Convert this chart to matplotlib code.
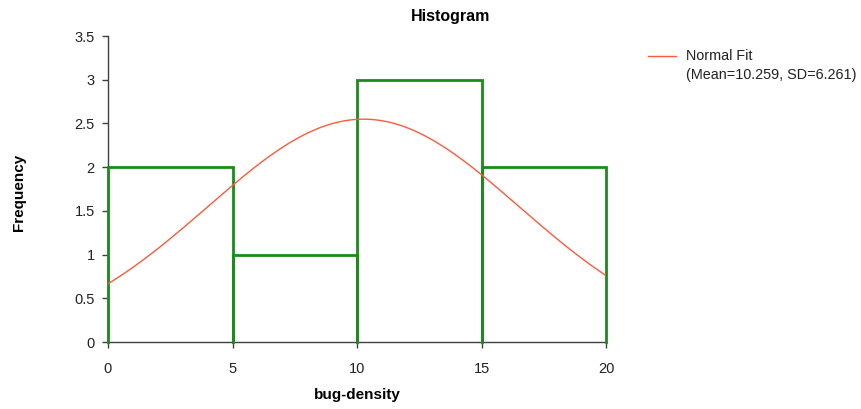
import numpy as np
import matplotlib
matplotlib.use("Agg")
import matplotlib.pyplot as plt

plt.rcParams['font.family'] = ['Liberation Sans', 'DejaVu Sans']

# Histogram data
bin_edges = [0, 5, 10, 15, 20]
counts = [2, 1, 3, 2]

# Normal fit parameters
fit_mean = 10.259
fit_sd = 6.261

x_ticks = [0, 5, 10, 15, 20]
y_ticks = [0, 0.5, 1, 1.5, 2, 2.5, 3, 3.5]
y_tick_labels = ["0", "0.5", "1", "1.5", "2", "2.5", "3", "3.5"]

W, H = 861, 409
fig = plt.figure(figsize=(W / 100, H / 100), dpi=100)
ax = fig.add_axes([108 / W, 1 - 342 / H, 498 / W, 306 / H])

# Histogram bars as outlined steps
green = "#1a8c1a"
for left, right, c in zip(bin_edges[:-1], bin_edges[1:], counts):
    ax.plot([left, left, right, right], [0, c, c, 0], color=green, lw=2,
            solid_joinstyle='miter', zorder=3, clip_on=False)

# Scaled normal density curve
n_total = sum(counts)
width = bin_edges[1] - bin_edges[0]
xs = np.linspace(bin_edges[0], bin_edges[-1], 400)
ys = n_total * width / (fit_sd * np.sqrt(2 * np.pi)) * np.exp(-0.5 * ((xs - fit_mean) / fit_sd) ** 2)
ax.plot(xs, ys, color="#ff5a3c", lw=1.0, zorder=4)

ax.set_xlim(0, 20)
ax.set_ylim(0, 3.5)
ax.set_xticks(x_ticks)
ax.set_yticks(y_ticks)
ax.set_yticklabels(y_tick_labels)
for s in ("top", "right"):
    ax.spines[s].set_visible(False)
for s in ("left", "bottom"):
    ax.spines[s].set_color("#404040")
    ax.spines[s].set_linewidth(1.0)
    ax.spines[s].set_zorder(2)
ax.tick_params(axis="both", colors="#404040", labelcolor="#222222",
               labelsize=10.5, length=4.5, width=1.0)
ax.tick_params(axis="x", pad=10)
ax.tick_params(axis="y", pad=5)

ax.set_xlabel("bug-density", fontsize=11, fontweight="bold", va="center")
ax.xaxis.set_label_coords(0.5, -(395 - 342) / 306)
ax.set_ylabel("Frequency", fontsize=11, fontweight="bold", va="center")
ax.yaxis.set_label_coords((19 - 108) / 498, 0.49)

fig.text(451 / W, 1 - 17 / H, "Histogram", fontsize=11.5, fontweight="bold",
         ha="center", va="center")

# Legend entry
fig.add_artist(plt.Line2D([648 / W, 676 / W], [1 - 56 / H, 1 - 56 / H],
                          color="#ff5a3c", lw=1.0))
fig.text(686 / W, 1 - 56 / H, "Normal Fit", fontsize=10.4, va="center",
         color="#222222")
fig.text(686 / W, 1 - 75 / H, "(Mean=10.259, SD=6.261)", fontsize=10.4,
         va="center", color="#222222")

fig.savefig("out.png", dpi=100, facecolor="white")
